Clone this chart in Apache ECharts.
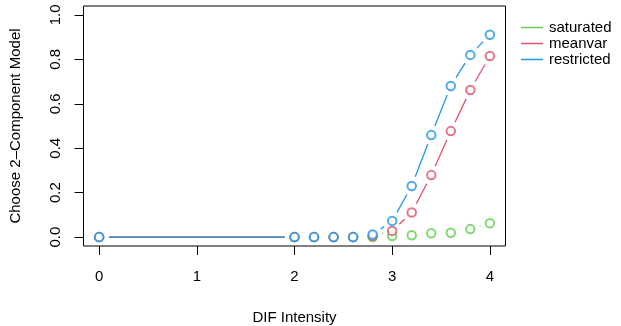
<!DOCTYPE html>
<html>
<head>
<meta charset="utf-8">
<script src="https://cdn.jsdelivr.net/npm/echarts@6/dist/echarts.min.js"></script>
<style>
  html, body { margin: 0; padding: 0; background: #fff; }
  #chart { width: 621px; height: 326px; }
</style>
</head>
<body>
<div id="chart"></div>
<script>
// DIF intensity levels
const intensity = [0, 2, 2.2, 2.4, 2.6, 2.8, 3, 3.2, 3.4, 3.6, 3.8, 4];
// proportion choosing the 2-component model, per model
const saturated  = [0, 0, 0, 0, 0, 0, 0.005, 0.008, 0.017, 0.020, 0.036, 0.062];
const meanvar    = [0, 0, 0, 0, 0, 0.005, 0.028, 0.111, 0.279, 0.477, 0.662, 0.815];
const restricted = [0, 0, 0, 0, 0, 0.012, 0.073, 0.230, 0.459, 0.680, 0.820, 0.911];
const xTicks = [0, 1, 2, 3, 4];
const yTicks = [0, 0.2, 0.4, 0.6, 0.8, 1.0];

const models = [
  { name: 'saturated',  values: saturated,  color: '#61D04F' },
  { name: 'meanvar',    values: meanvar,    color: '#DF536B' },
  { name: 'restricted', values: restricted, color: '#2297E6' }
];

const FONT = 'Liberation Sans, Arial, Helvetica, sans-serif';
const GAP = 9.8; // space left open around each point (px)

const series = [];
models.forEach(m => {
  const pts = intensity.map((x, i) => [x, m.values[i]]);
  const segs = [];
  for (let i = 0; i < pts.length - 1; i++) {
    segs.push([pts[i][0], pts[i][1], pts[i + 1][0], pts[i + 1][1]]);
  }
  // connecting segments, broken around each point
  series.push({
    name: m.name,
    type: 'custom',
    data: segs,
    silent: true,
    itemStyle: { color: m.color },
    encode: { x: [0, 2], y: [1, 3] },
    renderItem: function (params, api) {
      const a = api.coord([api.value(0), api.value(1)]);
      const b = api.coord([api.value(2), api.value(3)]);
      const dx = b[0] - a[0], dy = b[1] - a[1];
      const len = Math.sqrt(dx * dx + dy * dy);
      if (len <= 2 * GAP) return null;
      const ux = dx / len, uy = dy / len;
      return {
        type: 'line',
        shape: {
          x1: a[0] + ux * GAP, y1: a[1] + uy * GAP,
          x2: b[0] - ux * GAP, y2: b[1] - uy * GAP
        },
        style: { stroke: m.color, lineWidth: 1.3, fill: null }
      };
    }
  });
  // open circle markers
  series.push({
    name: m.name,
    type: 'scatter',
    data: pts,
    symbol: 'emptyCircle',
    symbolSize: 8.5,
    itemStyle: { color: m.color, borderColor: m.color, borderWidth: 1.3 },
    silent: true
  });
});

const chart = echarts.init(document.getElementById('chart'), null, { renderer: 'canvas' });
chart.setOption({
  animation: false,
  backgroundColor: '#fff',
  textStyle: { fontFamily: FONT },
  grid: {
    left: 83.5, right: 115.5, top: 6, bottom: 80,
    outerBoundsMode: 'none',
    containLabel: false,
    show: true, borderColor: '#000', borderWidth: 1, backgroundColor: 'transparent'
  },
  legend: {
    orient: 'vertical',
    left: 516, top: 15,
    itemWidth: 22, itemHeight: 1.5, itemGap: 1,
    icon: 'rect',
    selectedMode: false,
    textStyle: { fontFamily: FONT, fontSize: 15, color: '#000', padding: [0, 0, 0, 1] },
    data: models.map(m => ({ name: m.name, itemStyle: { color: m.color } }))
  },
  xAxis: {
    type: 'value',
    min: -0.16, max: 4.16,
    name: 'DIF Intensity',
    nameLocation: 'middle',
    nameGap: 64,
    nameTextStyle: { fontFamily: FONT, fontSize: 15, color: '#000' },
    axisLine: { show: false, onZero: false },
    splitLine: { show: false },
    axisTick: { show: true, inside: false, length: 9, customValues: xTicks, lineStyle: { color: '#000', width: 1 } },
    axisLabel: { customValues: xTicks, margin: 23, fontFamily: FONT, fontSize: 15, color: '#000',
                 formatter: v => String(v) }
  },
  yAxis: {
    type: 'value',
    min: -0.04, max: 1.04,
    name: 'Choose 2\u2013Component Model',
    nameLocation: 'middle',
    nameGap: 60,
    nameTextStyle: { fontFamily: FONT, fontSize: 15, color: '#000' },
    axisLine: { show: false, onZero: false },
    splitLine: { show: false },
    axisTick: { show: true, inside: false, length: 9, customValues: yTicks, lineStyle: { color: '#000', width: 1 } },
    axisLabel: { customValues: yTicks, rotate: 90, margin: 20, fontFamily: FONT, fontSize: 15, color: '#000',
                 formatter: v => v.toFixed(1) }
  },
  series: series
});
</script>
</body>
</html>
